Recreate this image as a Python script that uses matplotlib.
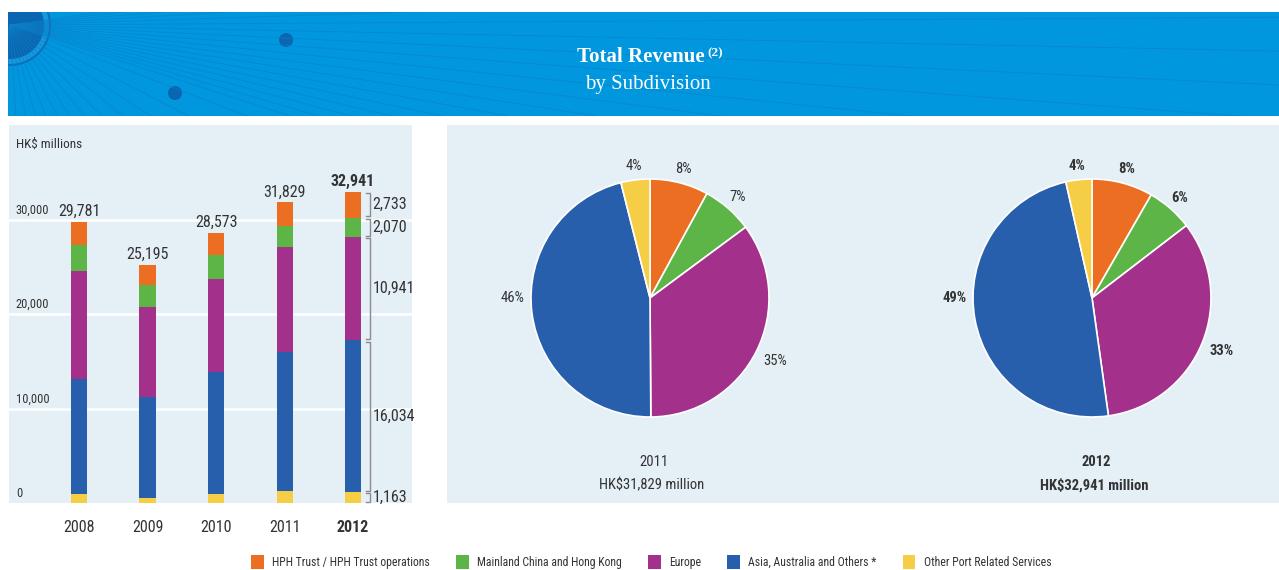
import matplotlib
matplotlib.use("Agg")
import matplotlib.pyplot as plt
import numpy as np
from matplotlib import font_manager
from matplotlib.patches import Rectangle, Circle, Patch
import matplotlib.transforms as mtransforms

# ---- data (HK$ millions) ----
years = ["2008", "2009", "2010", "2011", "2012"]
hph_trust = [2531, 2105, 2373, 2529, 2733]
mainland_hk = [2700, 2340, 2480, 2200, 2070]
europe = [11450, 9550, 9820, 11150, 10941]
asia_others = [12200, 10700, 13000, 14700, 16034]
other_port = [900, 500, 900, 1250, 1163]
series_names = ["HPH Trust / HPH Trust operations", "Mainland China and Hong Kong",
                "Europe", "Asia, Australia and Others *", "Other Port Related Services"]
y_ticks = [0, 10000, 20000, 30000]
pie_years = ["2011", "2012"]

colors = {"hph": "#EC6E23", "main": "#5DB548", "eu": "#A3308A",
          "asia": "#285FAC", "other": "#F5CE45"}
PANEL = "#E4EFF6"
TXT = "#333333"

# pick a narrow sans if one is installed
names = {f.name for f in font_manager.fontManager.ttflist}
FONT = "DejaVu Sans"
for cand in ["Liberation Sans Narrow", "Roboto Condensed", "Noto Sans Condensed",
             "Open Sans Condensed", "DejaVu Sans Condensed"]:
    if cand in names:
        FONT = cand
        break
NARROW = FONT != "DejaVu Sans"
plt.rcParams["font.family"] = [FONT, "DejaVu Sans"]
k = 1.0 if NARROW else 0.85
fs = 11.5 * k
fs_pie = 10.5 * k
fs_tick = 9 * k
fs_leg = 8.5 * k

W, H = 1279, 570
fig = plt.figure(figsize=(W / 100, H / 100), dpi=100)


def px_axes(x0, y0, x1, y1, **kw):
    return fig.add_axes([x0 / W, 1 - y1 / H, (x1 - x0) / W, (y1 - y0) / H], **kw)


# background layer in pixel coordinates
bg = fig.add_axes([0, 0, 1, 1], zorder=0)
bg.set_xlim(0, W)
bg.set_ylim(H, 0)
bg.axis("off")

band = Rectangle((8, 12), W - 8, 104, facecolor="#0097DF", edgecolor="none")
bg.add_patch(band)
sun_c = (10, 25)
for ang in np.concatenate([np.linspace(-8, 18, 18), np.linspace(21, 110, 16)]):
    a = np.deg2rad(ang)
    ln, = bg.plot([sun_c[0], sun_c[0] + 1500 * np.cos(a)],
                  [sun_c[1], sun_c[1] + 1500 * np.sin(a)],
                  color="#0A80C8", lw=0.6, alpha=0.7)
    ln.set_clip_path(band)
ring = Circle(sun_c, 40, facecolor="#1598E0", edgecolor="#0A70BA", lw=1.5)
disk = Circle(sun_c, 34, facecolor="#0A66B0", edgecolor="none")
for p in (ring, disk):
    bg.add_patch(p)
    p.set_clip_path(band)
bg.add_patch(Circle((286, 40), 7, facecolor="#0A66B0", edgecolor="none"))
bg.add_patch(Circle((175, 93), 7, facecolor="#0A66B0", edgecolor="none"))

serif = ["Liberation Serif", "DejaVu Serif"]
t1 = bg.text(641, 57, "Total Revenue", family=serif, fontsize=15, fontweight="bold",
             color="white", ha="center", va="center")
bg.annotate("(2)", xy=(1, 1), xycoords=t1, xytext=(2, 0), textcoords="offset points",
            family=serif, fontsize=9.5, fontweight="bold", color="white",
            ha="left", va="top")
bg.text(648, 84, "by Subdivision", family=serif, fontsize=15, color="white",
        ha="center", va="center")

# right panel background
bg.add_patch(Rectangle((447, 125), W - 447, 378, facecolor=PANEL, edgecolor="none"))

# ---- stacked bar chart ----
ax = px_axes(9, 125, 412, 503, zorder=1)
ax.set_facecolor(PANEL)
x = np.arange(len(years))
stack = [(other_port, colors["other"]), (asia_others, colors["asia"]),
         (europe, colors["eu"]), (mainland_hk, colors["main"]), (hph_trust, colors["hph"])]
bottom = np.zeros(len(years))
for vals, c in stack:
    ax.bar(x, vals, bottom=bottom, width=0.234, color=c, zorder=3)
    bottom += np.array(vals)
totals = bottom

ax.set_xlim(-1.022, 4.861)
ax.set_ylim(0, 40000)
for s in ax.spines.values():
    s.set_visible(False)
ax.set_yticks([])
for yv in y_ticks[1:]:
    ax.axhline(yv, color="white", lw=1.8, zorder=1)
trans = mtransforms.blended_transform_factory(ax.transAxes, ax.transData)
for yv in y_ticks:
    ax.annotate(f"{yv:,}", xy=(0.017, yv), xycoords=trans, xytext=(0, 2),
                textcoords="offset points", ha="left", va="bottom",
                fontsize=fs_tick, color=TXT)
ax.text(0.017, 0.965, "HK$ millions", transform=ax.transAxes, ha="left", va="top",
        fontsize=9.5 * k, color=TXT)

ax.set_xticks(x)
ax.set_xticklabels(years, fontsize=fs, color=TXT)
ax.get_xticklabels()[-1].set_fontweight("bold")
ax.tick_params(axis="x", length=0, pad=12)

for i, t in enumerate(totals):
    ax.annotate(f"{int(t):,}", xy=(x[i], t), xytext=(0, 2), textcoords="offset points",
                ha="center", va="bottom", fontsize=fs, color=TXT,
                fontweight="bold" if i == len(years) - 1 else "normal")

# brackets on the latest bar
last = len(years) - 1
xb, xs, xl = 4.248, 4.19, 4.285
lo = 0
for vals, _ in stack:
    v = vals[last]
    y0, y1 = lo + 120, lo + v - 120
    ax.plot([xs, xb, xb, xs], [y0, y0, y1, y1], color="#8C8C8C", lw=1, zorder=3,
            clip_on=False)
    ax.text(xl, lo + v / 2, f"{v:,}", ha="left", va="center", fontsize=fs, color=TXT)
    lo += v

# ---- pies ----
for n, (yr, cx) in enumerate(zip(pie_years, [650, 1092])):
    i = years.index(yr)
    vals = [hph_trust[i], mainland_hk[i], europe[i], asia_others[i], other_port[i]]
    r = 119
    pax = px_axes(cx - r, 298 - r, cx + r, 298 + r, zorder=1)
    bold = "bold" if n == 1 else "normal"
    wedges, _, pct = pax.pie(
        vals, colors=[colors["hph"], colors["main"], colors["eu"], colors["asia"],
                      colors["other"]],
        startangle=90, counterclock=False, autopct="%.0f%%", pctdistance=1.12,
        wedgeprops={"edgecolor": "white", "linewidth": 1.2},
        textprops={"fontsize": fs_pie, "color": TXT, "fontweight": bold})
    # large-wedge labels sit a little further out; Asia level with the centre
    px_, py_ = pct[2].get_position()
    pct[2].set_position((px_ * 1.05, py_ * 1.05))
    px_, py_ = pct[3].get_position()
    pct[3].set_position((-np.hypot(px_, py_) * 1.03, 0))
    pax.set_xlim(-1, 1)
    pax.set_ylim(-1, 1)
    pax.set_aspect("equal")
    bg.text(cx + 4, 462, yr, ha="center", va="center", fontsize=fs_pie, color=TXT,
            fontweight=bold)
    bg.text(cx + 2, 485, f"HK${sum(vals):,} million", ha="center", va="center",
            fontsize=fs_pie, color=TXT, fontweight=bold)

# ---- legend ----
handles = [Patch(facecolor=c) for c in [colors["hph"], colors["main"], colors["eu"],
                                         colors["asia"], colors["other"]]]
fig.legend(handles, series_names, loc="center", bbox_to_anchor=(651 / W, 1 - 562 / H),
           ncol=5, frameon=False, fontsize=fs_leg, handlelength=1.1, handleheight=1.4,
           handletextpad=0.7, columnspacing=2.2, labelcolor=TXT)

fig.savefig("out.png", dpi=100)
